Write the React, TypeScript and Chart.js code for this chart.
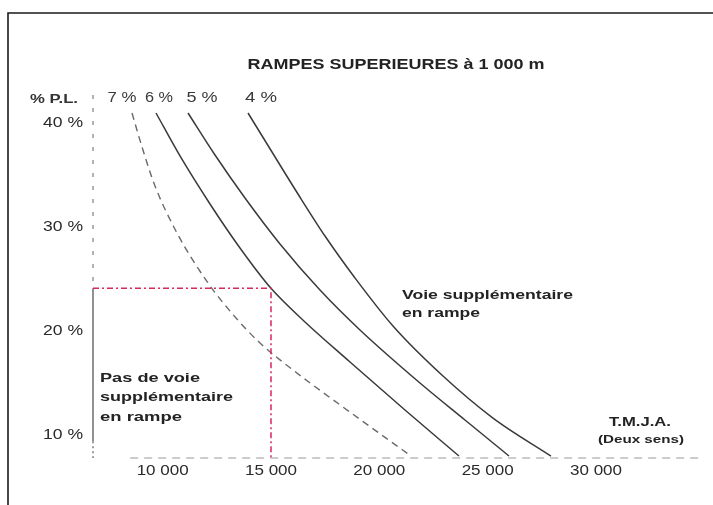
import React, { useEffect, useRef } from "react";
import { Chart, registerables } from "chart.js";

Chart.register(...registerables);

// ---- data ----
const gradeLabels = ["7 %", "6 %", "5 %", "4 %"];
const tmja7 = [8585, 9047, 9647, 10662, 12093, 13385, 14492, 16015, 18323, 21461];
const pl7 = [40.96, 37.69, 33.94, 29.42, 24.62, 21.25, 18.85, 16.25, 12.69, 7.98];
const tmja6 = [9693, 10800, 12185, 13569, 15000, 16569, 18646, 21184, 23676];
const pl6 = [40.96, 36.83, 32.21, 27.98, 24.1, 20.87, 17.02, 12.4, 7.98];
const tmja5 = [11170, 12416, 13800, 15415, 17261, 19107, 21876, 23953, 25984];
const pl5 = [40.96, 36.92, 32.79, 28.37, 23.94, 20.1, 15.0, 11.44, 7.98];
const tmja4 = [13939, 15046, 16246, 17492, 18877, 20630, 22938, 25245, 27922];
const pl4 = [40.96, 37.21, 33.17, 29.13, 25.1, 20.48, 15.67, 11.63, 7.98];

const refTmja = 15000;
const refPl = 24.1;

const xTicks = [10000, 15000, 20000, 25000, 30000];
const xTickLabels = ["10 000", "15 000", "20 000", "25 000", "30 000"];
const yTicks = [10, 20, 30, 40];
const yTickLabels = ["10 %", "20 %", "30 %", "40 %"];

const X_MIN = 6785;
const X_MAX = 34800;
const Y_MIN = 7.79;
const Y_MAX = 42.69;

const toPts = (xs: number[], ys: number[]) => xs.map((x, i) => ({ x, y: ys[i] }));

const TXT = "#232323";
const SANS = "'Liberation Sans', Arial, sans-serif";

function drawText(
  ctx: CanvasRenderingContext2D,
  s: string,
  x: number,
  y: number,
  font: string,
  width: number,
  align: "left" | "center" | "right",
  color = TXT
) {
  ctx.save();
  ctx.font = font;
  ctx.fillStyle = color;
  ctx.textBaseline = "middle";
  ctx.textAlign = "left";
  const w = ctx.measureText(s).width;
  const sx = width / w;
  const left = align === "left" ? x : align === "center" ? x - width / 2 : x - width;
  ctx.translate(left, y);
  ctx.scale(sx, 1);
  ctx.fillText(s, 0, 0);
  ctx.restore();
}

const decorPlugin = {
  id: "decor",
  beforeDatasetsDraw(chart: any) {
    const ctx: CanvasRenderingContext2D = chart.ctx;
    const xs = chart.scales.x;
    const ys = chart.scales.y;
    const ax = xs.getPixelForValue(X_MIN);
    const ay = ys.getPixelForValue(Y_MIN);
    ctx.save();
    // y axis: dashed above reference, solid below, dotted near bottom
    ctx.lineWidth = 1.3;
    ctx.strokeStyle = "#8a8a8a";
    ctx.setLineDash([4, 9]);
    ctx.beginPath();
    ctx.moveTo(ax, ys.getPixelForValue(Y_MAX));
    ctx.lineTo(ax, ys.getPixelForValue(refPl));
    ctx.stroke();
    ctx.setLineDash([]);
    ctx.strokeStyle = "#555";
    ctx.beginPath();
    ctx.moveTo(ax, ys.getPixelForValue(refPl));
    ctx.lineTo(ax, ys.getPixelForValue(9.4));
    ctx.stroke();
    ctx.setLineDash([2, 3]);
    ctx.strokeStyle = "#666";
    ctx.beginPath();
    ctx.moveTo(ax, ys.getPixelForValue(9.4));
    ctx.lineTo(ax, ay);
    ctx.stroke();
    // x axis: dashed light line
    ctx.setLineDash([8, 6]);
    ctx.strokeStyle = "#9a9a9a";
    ctx.lineWidth = 1.2;
    ctx.beginPath();
    ctx.moveTo(xs.getPixelForValue(8500), ay);
    ctx.lineTo(xs.getPixelForValue(X_MAX), ay);
    ctx.stroke();
    ctx.restore();
  },
  afterDraw(chart: any) {
    const ctx: CanvasRenderingContext2D = chart.ctx;
    const xs = chart.scales.x;
    const ys = chart.scales.y;
    const ay = ys.getPixelForValue(Y_MIN);

    // frame
    ctx.save();
    ctx.strokeStyle = "#1a1a1a";
    ctx.lineWidth = 1.6;
    ctx.beginPath();
    ctx.moveTo(713, 13);
    ctx.lineTo(8, 13);
    ctx.lineTo(8, 505);
    ctx.stroke();
    ctx.restore();

    // tick labels
    xTicks.forEach((v, i) => {
      drawText(ctx, xTickLabels[i], xs.getPixelForValue(v), ay + 13, `14px ${SANS}`, 52, "center", "#2a2a2a");
    });
    yTicks.forEach((v, i) => {
      drawText(ctx, yTickLabels[i], 83, ys.getPixelForValue(v), `14px ${SANS}`, 40, "right", "#2a2a2a");
    });

    // titles and annotations
    drawText(ctx, "RAMPES SUPERIEURES à 1 000 m", 396, 65, `bold 15px ${SANS}`, 297, "center");
    drawText(ctx, "% P.L.", 30, 99, `bold 13px ${SANS}`, 48, "left", "#333");
    const gradePos = [122, 159, 202, 261];
    const gradeW = [29, 28, 31, 32];
    gradeLabels.forEach((g, i) => {
      drawText(ctx, g, gradePos[i], 98, `14px ${SANS}`, gradeW[i], "center", "#3a3a3a");
    });
    drawText(ctx, "Voie supplémentaire", 402, 295, `bold 13px ${SANS}`, 171, "left");
    drawText(ctx, "en rampe", 402, 313, `bold 13px ${SANS}`, 78, "left");
    drawText(ctx, "Pas de voie", 100, 378, `bold 13px ${SANS}`, 100, "left");
    drawText(ctx, "supplémentaire", 100, 397, `bold 13px ${SANS}`, 133, "left");
    drawText(ctx, "en rampe", 100, 417, `bold 13px ${SANS}`, 82, "left");
    drawText(ctx, "T.M.J.A.", 640, 423, `bold 12px ${SANS}`, 62, "center");
    drawText(ctx, "(Deux sens)", 641, 440, `bold 11px ${SANS}`, 86, "center");
  },
};

export default function App() {
  const ref = useRef<HTMLCanvasElement | null>(null);

  useEffect(() => {
    if (!ref.current) return;
    const curve = (data: any[], dashed: boolean) => ({
      data,
      showLine: true,
      borderColor: dashed ? "#6a6a6a" : "#3a3a3a",
      borderWidth: dashed ? 1.4 : 1.5,
      borderDash: dashed ? [7, 5] : [],
      pointRadius: 0,
      pointHoverRadius: 0,
      cubicInterpolationMode: "monotone" as const,
      fill: false,
    });
    const chart = new Chart(ref.current, {
      type: "scatter",
      data: {
        datasets: [
          {
            data: [
              { x: X_MIN, y: refPl },
              { x: refTmja, y: refPl },
              { x: refTmja, y: Y_MIN },
            ],
            showLine: true,
            borderColor: "#d8285a",
            borderWidth: 1.5,
            borderDash: [6, 3, 2, 3],
            pointRadius: 0,
            tension: 0,
            fill: false,
          } as any,
          curve(toPts(tmja7, pl7), true),
          curve(toPts(tmja6, pl6), false),
          curve(toPts(tmja5, pl5), false),
          curve(toPts(tmja4, pl4), false),
        ],
      },
      options: {
        animation: false,
        responsive: false,
        events: [],
        layout: { padding: { left: 93, top: 95, right: 13, bottom: 47 } },
        plugins: { legend: { display: false }, tooltip: { enabled: false }, title: { display: false } },
        scales: {
          x: { type: "linear", min: X_MIN, max: X_MAX, display: false },
          y: { type: "linear", min: Y_MIN, max: Y_MAX, display: false },
        },
      },
      plugins: [decorPlugin],
    });
    return () => chart.destroy();
  }, []);

  return (
    <div style={{ position: "fixed", left: 0, top: 0, width: 713, height: 505, background: "#fff" }}>
      <canvas ref={ref} width={713} height={505} style={{ display: "block" }} />
    </div>
  );
}
